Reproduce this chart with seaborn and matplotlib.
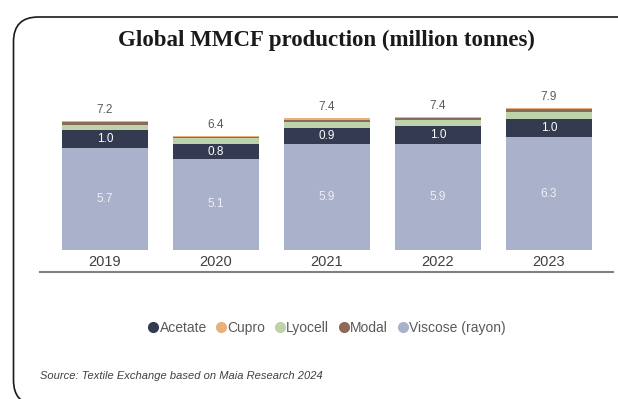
import numpy as np
import pandas as pd
import seaborn as sns
import matplotlib.pyplot as plt
from matplotlib.patches import FancyBboxPatch
from matplotlib.lines import Line2D

# ================================
# Data (million tonnes)
# ================================
years = ["2019", "2020", "2021", "2022", "2023"]
viscose = [5.7, 5.1, 5.9, 5.9, 6.3]
acetate = [1.0, 0.8, 0.9, 1.0, 1.0]
lyocell = [0.28, 0.33, 0.33, 0.35, 0.39]
modal = [0.17, 0.10, 0.15, 0.13, 0.17]
cupro = [0.05, 0.06, 0.07, 0.06, 0.07]
totals = [7.2, 6.4, 7.4, 7.4, 7.9]

colors = {
    "Acetate": "#343a4f",
    "Cupro": "#e8b07b",
    "Lyocell": "#bdd3ac",
    "Modal": "#8c6a58",
    "Viscose (rayon)": "#aab1cb",
}

sns.set_theme(style="white")
plt.rcParams["font.family"] = ["Liberation Sans", "DejaVu Sans"]

df = pd.DataFrame({"year": years, "Viscose (rayon)": viscose, "Acetate": acetate,
                   "Lyocell": lyocell, "Modal": modal, "Cupro": cupro})

# stacked from bottom to top
stack_order = ["Viscose (rayon)", "Acetate", "Lyocell", "Modal", "Cupro"]
cum = df[stack_order].cumsum(axis=1)

fig = plt.figure(figsize=(6.18, 3.99), dpi=100)
ax = fig.add_axes([0.0647, 0.3183, 0.927, 0.4436])

# overlay cumulative sums, tallest first
for name in reversed(stack_order):
    sns.barplot(x=df["year"], y=cum[name], color=colors[name], saturation=1,
                width=0.775, errorbar=None, ax=ax, zorder=2, linewidth=0)

# inner labels
for i in range(len(years)):
    ax.text(i, viscose[i] / 2, f"{viscose[i]:.1f}", ha="center", va="center",
            fontsize=8.5, color="#eef0f6")
    ax.text(i, viscose[i] + acetate[i] / 2, f"{acetate[i]:.1f}", ha="center",
            va="center", fontsize=8.5, color="white")
    ax.annotate(f"{totals[i]:.1f}", (i, cum["Cupro"][i]), xytext=(0, 8),
                textcoords="offset points", ha="center", va="center",
                fontsize=8.5, color="#595959")

ax.set_xlim(-0.585, 4.577)
ax.set_ylim(-1.23, 8.66)
ax.set_xlabel("")
ax.set_ylabel("")
ax.set_yticks([])
ax.tick_params(axis="x", length=0, pad=-12, labelsize=10.5, labelcolor="#404040")
for s in ["top", "left", "right"]:
    ax.spines[s].set_visible(False)
ax.spines["bottom"].set_color("#808080")
ax.spines["bottom"].set_linewidth(1.5)
ax.set_facecolor("none")

# title and source
fig.text(0.528, 0.898, "Global MMCF production (million tonnes)", ha="center",
         va="center", fontsize=16.5, fontweight="bold", family="Liberation Serif",
         color="#1a1a1a")
fig.text(0.065, 0.058, "Source: Textile Exchange based on Maia Research 2024",
         ha="left", va="center", fontsize=8, style="italic", color="#404040")

# legend
legend_order = ["Acetate", "Cupro", "Lyocell", "Modal", "Viscose (rayon)"]
handles = [Line2D([0], [0], marker="o", linestyle="", markersize=7,
                  markerfacecolor=colors[n], markeredgecolor=colors[n])
           for n in legend_order]
fig.legend(handles, legend_order, loc="center", bbox_to_anchor=(0.529, 0.178),
           ncol=5, frameon=False, fontsize=10, handlelength=0.7,
           handletextpad=0.1, columnspacing=0.7, labelcolor="#595959")

# rounded frame
frame = FancyBboxPatch((13.5 / 618, -6 / 399), 660 / 618, 388 / 399,
                       boxstyle="round,pad=0,rounding_size=0.04",
                       transform=fig.transFigure, fill=False,
                       edgecolor="#1a1a1a", linewidth=1.2, mutation_aspect=618 / 399)
fig.add_artist(frame)

fig.savefig("out.png", dpi=100)
